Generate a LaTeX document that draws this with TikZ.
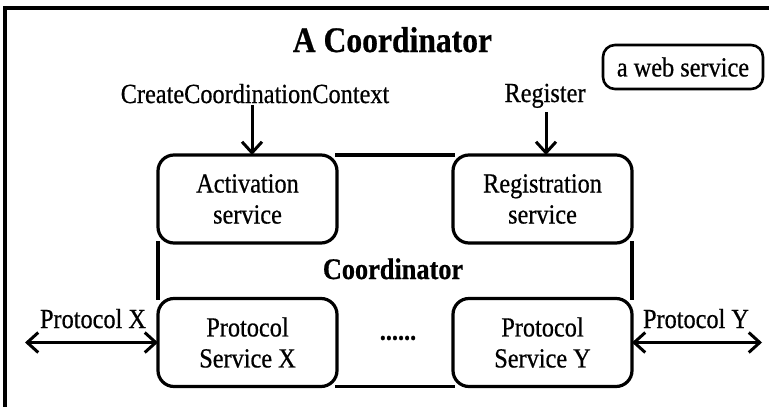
\documentclass[tikz,border=0pt]{standalone}
\usepackage{fontspec}
\setmainfont{Liberation Serif}[FakeStretch=0.88, FakeBold=0.6]
\usetikzlibrary{arrows.meta}
\newcommand\dgtext{\fontsize{27.6pt}{31pt}\selectfont}
\newcommand\dgtitle{\fontsize{35.9pt}{40pt}\selectfont\bfseries}
\newcommand\dgbold{\fontsize{29.9pt}{34pt}\selectfont\bfseries}
\tikzset{
  svcbox/.style={draw, line width=3.2pt, rounded corners=16pt, outer sep=0pt,
    minimum width=179pt, minimum height=88pt, align=center, font=\dgtext,
    inner sep=2pt},
  lbl/.style={font=\dgtext, inner sep=0pt, anchor=base},
  coordline/.style={draw, line width=3.3pt, line cap=rect},
  arr/.style={line width=3pt, -{Straight Barb[length=11pt,width=20pt]}},
  dblarr/.style={line width=3pt, {Straight Barb[length=11pt,width=20pt]}-{Straight Barb[length=11pt,width=20pt]}}
}
\begin{document}
\begin{tikzpicture}[x=1pt,y=-1pt]
\useasboundingbox (0,0) rectangle (769,407);
% outer frame (only left and top edges fall inside the page)
\draw[line width=3.2pt] (5,420) -- (5,8) -- (790,8);

% title and legend
\node[font=\dgtitle, inner sep=0pt, anchor=base] (title) at (392.5,52) {A Coordinator};
\node[draw, line width=2.6pt, rounded corners=12pt, minimum width=160pt,
      minimum height=44pt, font=\dgtext, inner sep=0pt] (legend) at (683,67) {a web service};

% services of the coordinator
\node[svcbox] (act) at (247.5,199) {Activation\\service};
\node[svcbox] (reg) at (542.5,199) {Registration\\service};
\node[svcbox] (psx) at (247.5,342.5) {Protocol\\Service X};
\node[svcbox] (psy) at (542.5,342.5) {Protocol\\Service Y};

% coordinator outline joining the service boxes
\path[coordline] (act.north east) -- (reg.north west)
                 (act.south west) -- (psx.north west)
                 (psx.south east) -- (psy.south west)
                 (reg.south east) -- (psy.north east);

\node[font=\dgbold, inner sep=0pt, anchor=base] (coord) at (393,279) {Coordinator};
\node[font=\dgtext\bfseries, inner sep=0pt] (dots) at (398,338) {......};

% incoming operations
\node[lbl] (cc) at (255,103) {CreateCoordinationContext};
\draw[arr] (cc.south) ++(-3,2) coordinate (ccs) -- (ccs |- act.north);
\node[lbl] (rg) at (545,102) {Register};
\draw[arr] (rg.south) ++(1,4) coordinate (rgs) -- (rgs |- reg.north);

% protocol exchanges
\node[lbl] (plx) at (93,328) {Protocol X};
\coordinate (xend) at (25,342.5);
\draw[dblarr] (xend) -- (psx.west);
\node[lbl] (ply) at (696,328) {Protocol Y};
\coordinate (yend) at (762,342.5);
\draw[dblarr] (psy.east) -- (yend);
\end{tikzpicture}
\end{document}
